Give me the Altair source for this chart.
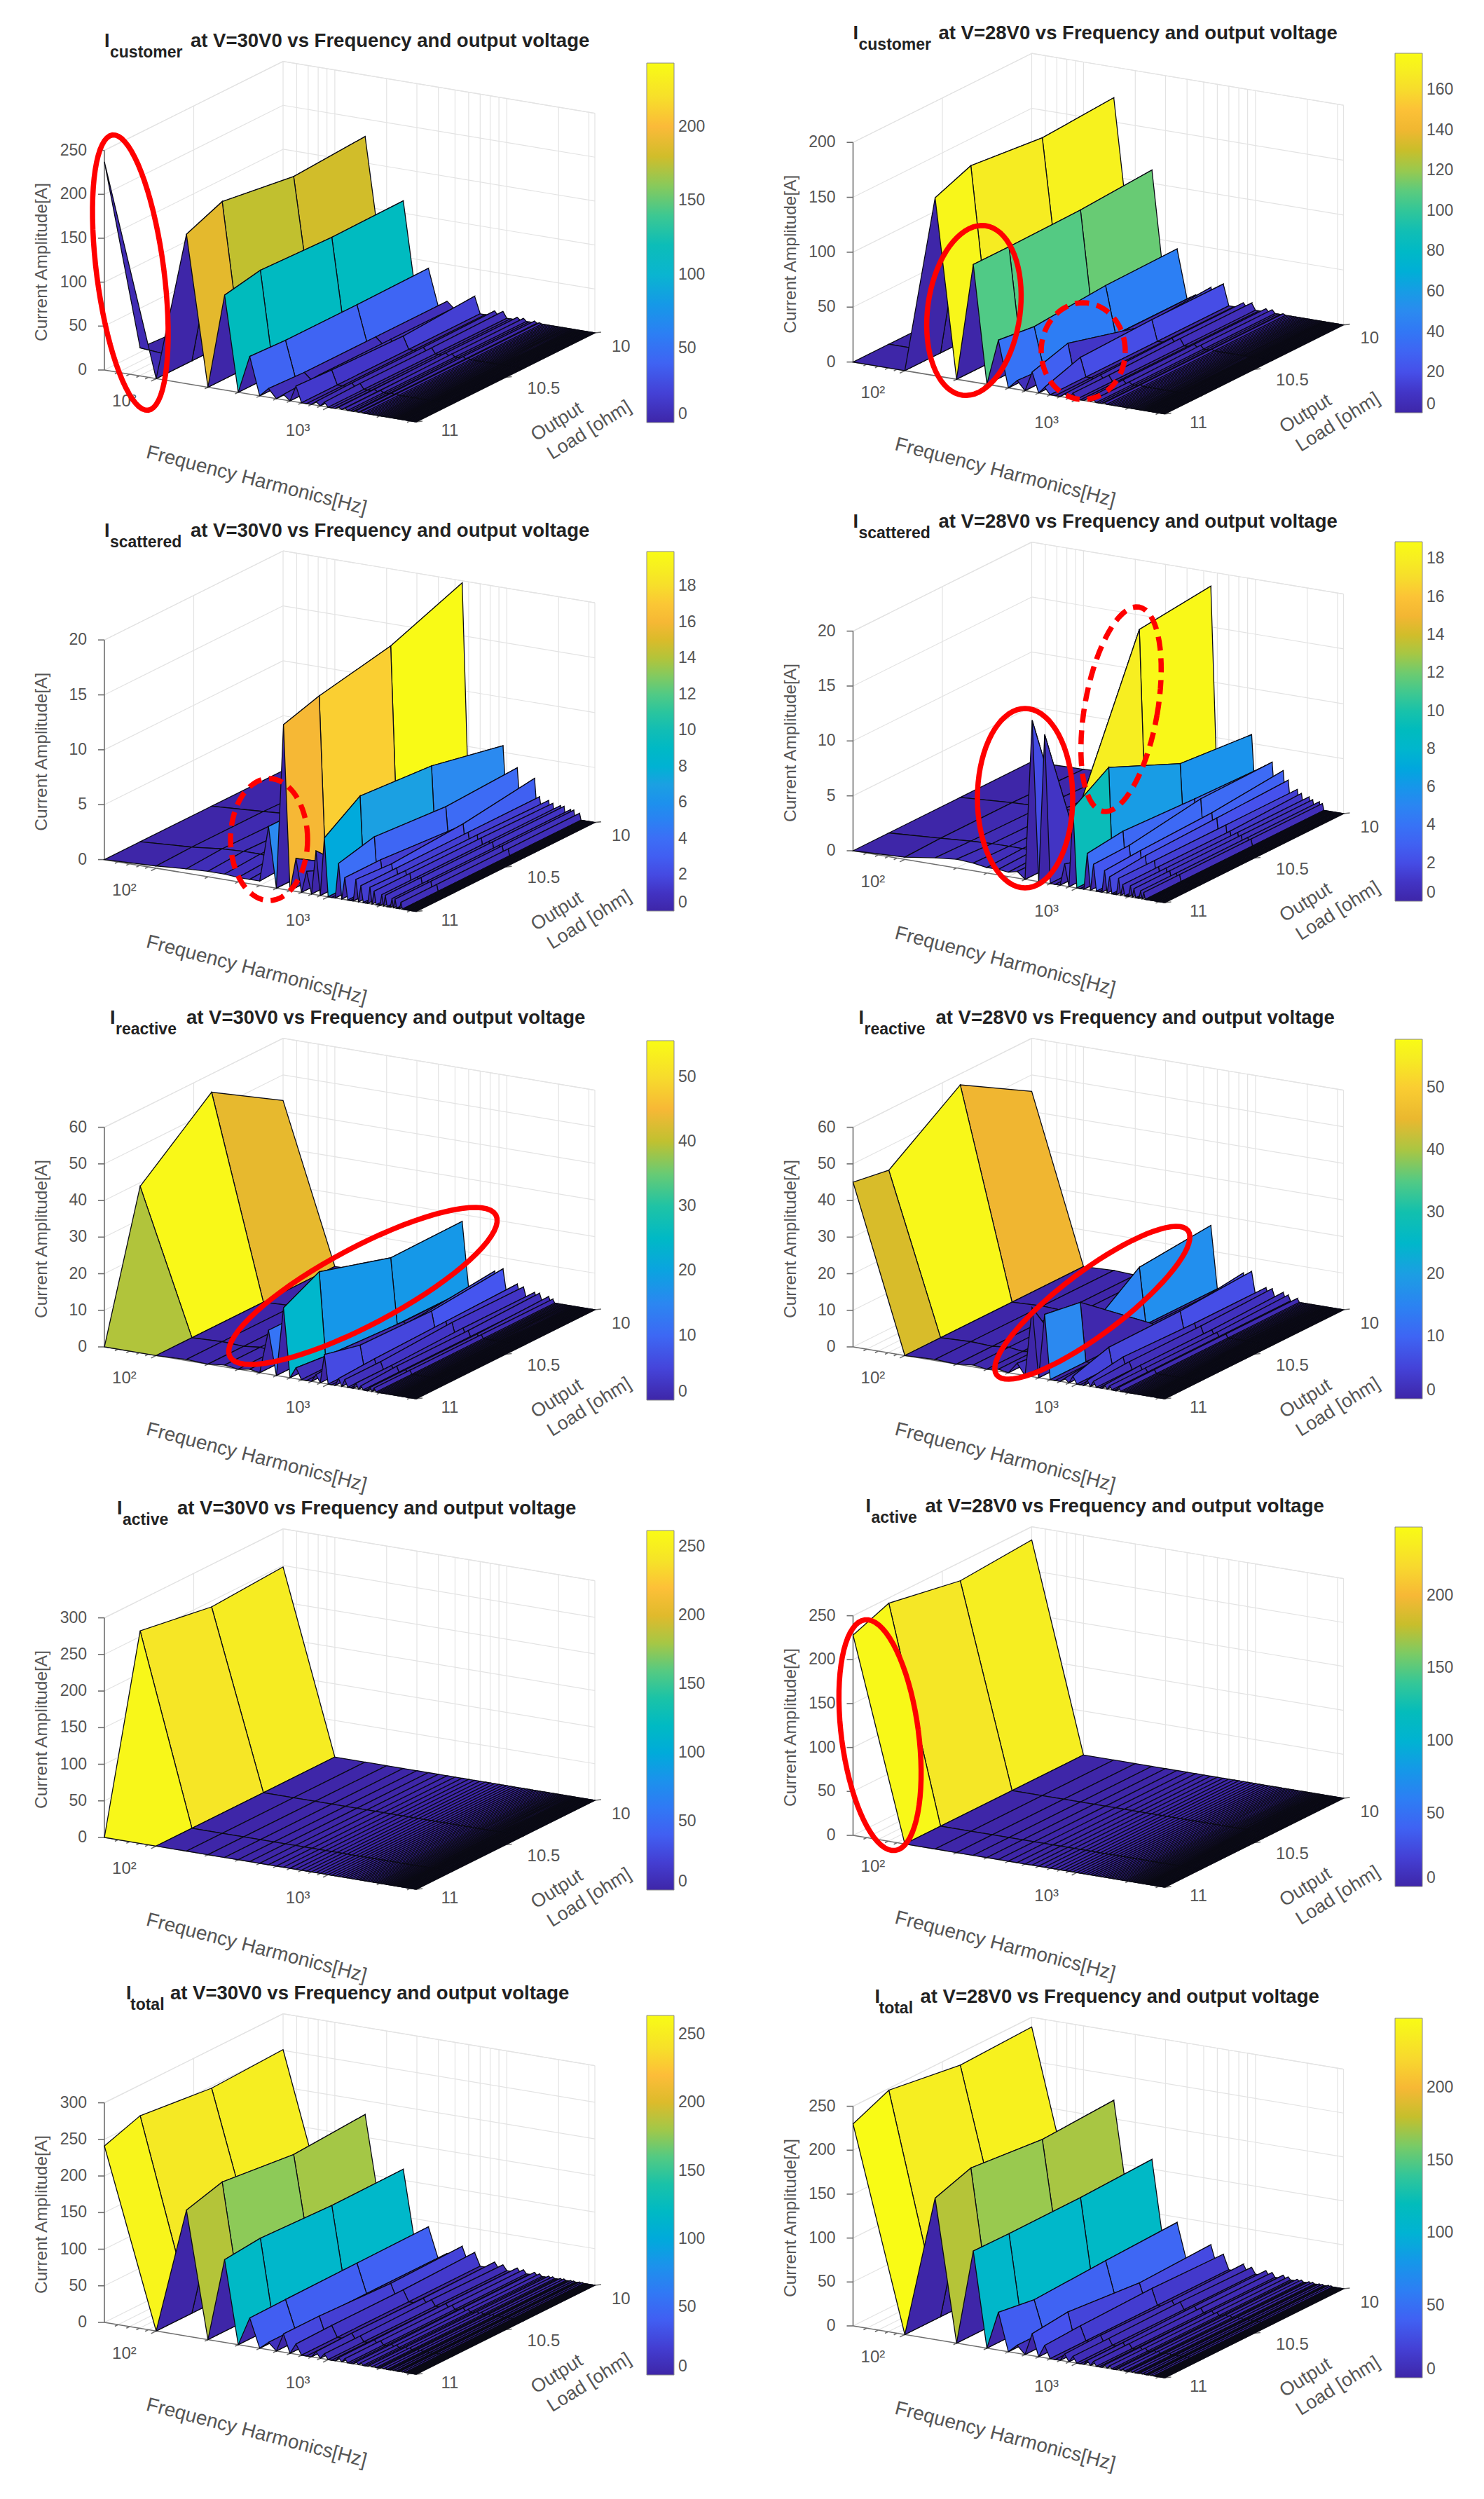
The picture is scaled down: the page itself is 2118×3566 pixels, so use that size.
import math
import altair as alt

PARULA = ["#3E26A8", "#4236C8", "#4653EE", "#3C6EF6", "#2C8AF0", "#1E9FE2", "#0CB5D0", "#12BDB6", "#30C69A",
          "#5ECB7C", "#A0C84A", "#C9BE2A", "#F2B632", "#FDBB3A", "#F8D530", "#F5E825", "#F9FB15"]
PARULA_AT = [0, .06, .12, .2, .28, .35, .41, .5, .56, .62, .68, .73, .79, .83, .88, .93, 1]
HARMONICS = list(range(1, 66))
LOADS = [11, 10.8, 10.4, 10]
FONT = "Liberation Sans"

# amplitude [A] per harmonic number, at the loads 11, 10.8, 10.4, 10 ohm; all others read as about 0
CUSTOMER_30 = {1: [237, 5, 0, 0], 3: [170, 187, 175, 180], 5: [108, 116, 113, 114], 7: [43, 41, 41, 42],
               9: [10, 8, 8, 8], 11: [6, 8, 8, 8], 13: [18, 16, 14, 19], 17: [4, 5, 5, 6], 19: [5, 6, 6, 7],
               23: [2, 2, 3, 3], 25: [2, 2, 3, 3], 29: [1, 1, 2, 2], 31: [1, 1, 1, 1]}
CUSTOMER_28 = {3: [162, 175, 168, 172], 5: [107, 107, 108, 112], 7: [42, 38, 43, 44], 9: [8, 6, 5, 5],
               11: [18, 28, 10, 14], 13: [6, 17, 19, 19], 17: [3, 4, 5, 5], 19: [5, 5, 6, 6],
               23: [2, 3, 3, 3], 25: [2, 2, 3, 3], 29: [1, 1, 1, 1]}
SCATTERED_30 = {2: [.2, .3, .3, .1], 3: [.4, .6, .5, .2], 4: [.5, .7, .5, .2], 5: [.5, .7, .6, .2],
                6: [.4, .6, .6, .3], 7: [.4, .6, .6, .3], 8: [.4, .6, .6, .3], 9: [5.5, 5.5, .6, .3],
                11: [15, 16, 17.3, 19.8], 13: [3, 1, .5, .4], 15: [2, .6, .4, .3], 17: [4, .8, .5, .4],
                19: [5.3, 7.5, 7, 5.6], 23: [3.2, 4, 3.5, 3.8], 25: [2, 2, 1.5, 1], 29: [2, 1.8, 2.2, 3.1],
                31: [1.5, 1.5, 1.5, 1.5], 35: [1.5, 1.4, 1.4, 1.3], 37: [1.2, 1.2, 1.2, 1.1], 41: [1, 1, 1, 1],
                43: [1, 1, 1, 1], 47: [.8, .8, .8, .8], 49: [.8, .8, .8, .8], 53: [.6, .6, .6, .6]}
SCATTERED_28 = {2: [.2, .3, .3, .1], 3: [.6, .5, .4, .2], 4: [.8, .6, .5, .2], 5: [.7, .6, .5, .2],
                6: [.5, .6, .5, .3], 7: [.5, .6, .5, .3], 8: [.4, .5, .5, .3], 9: [.6, .5, .5, .3],
                11: [14.6, 2, 18, 18.7], 13: [13.5, 1, 1, 1], 17: [2, 1, 1, 1], 19: [7.2, 9.3, 6.4, 5.8],
                23: [3.3, 3.7, 3.4, 3.2], 25: [2.4, 2.5, 3.5, 3.6], 29: [2, 2.2, 2.4, 3], 31: [1.5, 1.8, 2, 2.2],
                35: [1.5, 1.5, 1.5, 1.5], 37: [1, 1, 1, 1.2], 41: [1, 1, 1, 1], 43: [.8, .8, .8, .8],
                47: [.7, .7, .7, .7], 49: [.6, .6, .6, .6]}
REACTIVE_30 = {1: [0, 39, 55, 43], 3: [.3, .3, .3, .3], 5: [.5, .5, .5, .5], 7: [.5, .5, .5, .5],
               9: [12, 12, .5, .5], 11: [18.8, 23.8, 17.9, 18.1], 13: [3, 2, 1, 1], 17: [2, 3, 4, 6],
               19: [7.9, 5.6, 5.2, 7], 23: [2, 2.5, 3, 3.5], 25: [2, 2, 3, 3], 29: [1.5, 1.5, 2, 2],
               31: [1, 1.5, 1.5, 2], 35: [1, 1, 1, 1.5], 37: [1, 1, 1, 1]}
REACTIVE_28 = {1: [45, 43.4, 57, 45.5], 3: [.3, .3, .3, .3], 5: [.5, .5, .5, .5], 7: [.5, .5, .5, .5],
               9: [3, 2, .5, .5], 11: [18.8, 1, 15.3, 17], 13: [17.6, 16, .5, .5], 17: [1, 2, 3, 5.5],
               19: [2, 5, 5.2, 6.3], 23: [1.5, 3, 2.5, 2.5], 25: [1.5, 2, 2, 2.5], 29: [1, 1.5, 1.5, 2],
               31: [1, 1, 1, 1.5], 35: [1, 1, 1, 1]}
ACTIVE_30 = {1: [0, 258, 242, 248]}
ACTIVE_28 = {1: [228, 244, 229, 235]}
TOTAL_30 = {1: [241, 258, 247, 251], 3: [172, 186, 175, 181], 5: [113, 118, 114, 115], 7: [39, 40, 41, 42],
            9: [10, 10, 10, 10], 11: [25, 25, 21, 23], 13: [14, 15, 15, 17.5], 17: [8, 9, 8, 9], 19: [7, 7, 8, 7],
            23: [5, 5, 6, 6], 25: [5, 5, 5, 5], 29: [3, 3, 4, 4], 31: [3, 3, 3, 3], 35: [2, 2, 2, 2],
            37: [2, 2, 2, 2], 41: [1.5, 1.5, 1.5, 1.5], 43: [1.5, 1.5, 1.5, 1.5], 47: [1, 1, 1, 1], 49: [1, 1, 1, 1],
            53: [1, 1, 1, 1], 55: [1, 1, 1, 1]}
TOTAL_28 = {1: [230, 248, 236, 239], 3: [161, 175, 167, 171], 5: [108, 107.5, 108, 111], 7: [43, 37, 41, 44],
            9: [9, 9, 10, 10], 11: [25, 29.5, 22, 25], 13: [14, 16, 18, 16.5], 17: [8, 9, 8, 9], 19: [7, 7, 8, 7],
            23: [5, 5, 6, 6], 25: [5, 5, 5, 5], 29: [3, 3, 4, 4], 31: [3, 3, 3, 3], 35: [2, 2, 2, 2],
            37: [2, 2, 2, 2], 41: [1.5, 1.5, 1.5, 1.5], 43: [1.5, 1.5, 1.5, 1.5], 47: [1, 1, 1, 1], 49: [1, 1, 1, 1],
            53: [1, 1, 1, 1], 55: [1, 1, 1, 1]}

FREQ_TICKS = [60, 70, 80, 90, 100, 200, 300, 400, 500, 600, 700, 800, 900, 1000, 2000, 3000]
FREQ_MAJOR = [100, 1000]
LOAD_TICKS = [11, 10.5, 10]

ROW_TOP = [8, 738, 1438, 2135, 2830]
ROW_H = [730, 700, 697, 695, 710]
COL_LEFT = [8, 1060]
COL_W = [1052, 1050]

# sub, volt, values, zmax, zstep, cmax, cstep, origin, colour bar top, colour bar left, I x, sub x, rest x, ellipses
PANELS = [
    [("customer", "30", CUSTOMER_30, 250, 50, 243, 50, (149, 528), 90, 923, 0, 8, 123,
      [(186, 389, 198, 48, -7.4, False)]),
     ("customer", "28", CUSTOMER_28, 200, 50, 178, 20, (1217.5, 516.6), 76, 1991, 0, 8, 122,
      [(1390, 443, 122, 66, 7.7, False), (1546, 501, 69, 60, 0, True)])],
    [("scattered", "30", SCATTERED_30, 20, 5, 19.9, 2, (149, 1226.6), 787, 923, 0, 8, 123,
      [(384, 1198, 87, 55, 0, True)]),
     ("scattered", "28", SCATTERED_28, 20, 5, 18.9, 2, (1217.5, 1214), 773, 1991, 0, 8, 122,
      [(1463, 1139, 128, 68, 0, False), (1600, 1012, 148, 52, 10, True)])],
    [("reactive", "30", REACTIVE_30, 60, 10, 55.6, 10, (149, 1922), 1485, 923, 8, 16, 117,
      [(518, 1835, 215, 55, 62, False)]),
     ("reactive", "28", REACTIVE_28, 60, 10, 57.8, 10, (1217.5, 1922), 1483, 1991, 8, 16, 118,
      [(1559, 1859, 171, 45, 53, False)])],
    [("active", "30", ACTIVE_30, 300, 50, 262, 50, (149, 2622), 2184, 923, 18, 26, 104, []),
     ("active", "28", ACTIVE_28, 250, 50, 247, 50, (1217.5, 2619), 2179, 1991, 18, 26, 103,
      [(1256, 2476, 166, 55, -7.5, False)])],
    [("total", "30", TOTAL_30, 300, 50, 264, 50, (149, 3314), 2876, 923, 31, 37, 94, []),
     ("total", "28", TOTAL_28, 250, 50, 248, 50, (1217.5, 3319), 2880, 1991, 31, 37, 96, [])],
]

AX, AY = 445, 74      # frequency axis on screen
BX, BY = 255, -127    # load axis on screen
CZ = 313.4            # amplitude axis on screen
LOG_SPAN = math.log10(HARMONICS[-1])
CBAR_LEN, CBAR_W = 513, 39


def project(ox, oy, freq, load, frac):
    u = math.log10(freq / 50.0) / LOG_SPAN
    v = (11 - load)
    return ox + AX * u + BX * v, oy + AY * u + BY * v - CZ * frac


def panel(row, col, spec):
    sub, volt, values, zmax, zstep, cmax, cstep, origin, cb_top, cb_left, ix, sx, rx, ellipses = spec
    top, left, w, h = ROW_TOP[row], COL_LEFT[col], COL_W[col], ROW_H[row]
    ox, oy = origin[0] - left, origin[1] - top
    xs = alt.Scale(domain=[0, w], nice=False, zero=False)
    ys = alt.Scale(domain=[h, 0], nice=False, zero=False)
    X = alt.X("x:Q", scale=xs, axis=None)
    Y = alt.Y("y:Q", scale=ys, axis=None)

    def rules(rows, color, width):
        return alt.Chart(alt.Data(values=rows)).mark_rule(color=color, strokeWidth=width).encode(
            x=X, y=Y, x2="x2:Q", y2="y2:Q")

    def texts(rows, size, color="#555555", bold=False, angle=0, align="center"):
        return alt.Chart(alt.Data(values=rows)).mark_text(
            font=FONT, fontSize=size, color=color, fontWeight="bold" if bold else "normal",
            angle=angle, align=align, baseline="middle").encode(x=X, y=Y, text="t:N")

    def seg(a, b):
        return {"x": a[0], "y": a[1], "x2": b[0], "y2": b[1]}

    P = lambda f, l, z=0.0: project(ox, oy, f, l, z)
    fmin, fmax = 50, 50 * HARMONICS[-1]
    zticks = [z for z in range(0, zmax + 1, zstep)]

    grid = []
    for z in zticks:
        fr = z / zmax
        grid.append(seg(P(fmin, 11, fr), P(fmin, 10, fr)))
        grid.append(seg(P(fmin, 10, fr), P(fmax, 10, fr)))
    for f in FREQ_TICKS:
        grid.append(seg(P(f, 10, 0), P(f, 10, 1)))
        grid.append(seg(P(f, 11, 0), P(f, 10, 0)))
    grid.append(seg(P(fmin, 10.5, 0), P(fmin, 10.5, 1)))
    grid.append(seg(P(fmin, 10.5, 0), P(fmax, 10.5, 0)))
    grid.append(seg(P(fmin, 10, 0), P(fmin, 10, 1)))
    grid.append(seg(P(fmax, 11, 0), P(fmax, 10, 0)))
    grid.append(seg(P(fmax, 10, 0), P(fmax, 10, 1)))
    grid.append(seg(P(fmin, 11, 1), P(fmin, 10, 1)))
    grid.append(seg(P(fmin, 10, 1), P(fmax, 10, 1)))

    axis = [seg(P(fmin, 11, 0), P(fmin, 11, 1)),
            seg(P(fmin, 11, 0), P(fmax, 11, 0)),
            seg(P(fmax, 11, 0), P(fmax, 10, 0))]
    for z in zticks:
        a = P(fmin, 11, z / zmax)
        axis.append(seg((a[0] - 9, a[1]), a))
    for f in FREQ_TICKS:
        a = P(f, 11, 0)
        d = 8 if f in FREQ_MAJOR else 5
        axis.append(seg(a, (a[0] - d * 0.9, a[1] + d * 0.45)))
    for l in LOAD_TICKS:
        a = P(fmax, l, 0)
        axis.append(seg(a, (a[0] + 9, a[1] - 1)))

    features = []
    n = len(HARMONICS)
    z_at = lambda i, j: values.get(HARMONICS[i], [0, 0, 0, 0])[j]
    for i in range(n - 1):
        for j in (3, 2, 1):
            corners = [(i, j), (i + 1, j), (i + 1, j - 1), (i, j - 1)]
            ring = [list(P(50 * HARMONICS[a], LOADS[b], z_at(a, b) / zmax)) for a, b in corners]
            ring.append(ring[0])
            features.append({"type": "Feature", "properties": {"c": min(z_at(i, j), cmax)},
                             "geometry": {"type": "Polygon", "coordinates": [ring]}})

    stops = [cmax * q for q in PARULA_AT]
    cvals = [c * cstep for c in range(0, int(cmax / cstep) + 1)]
    legend = alt.Legend(orient="none", legendX=cb_left - left, legendY=cb_top - top, title=None,
                        gradientLength=CBAR_LEN, gradientThickness=CBAR_W, values=cvals,
                        labelFont=FONT, labelFontSize=23, labelColor="#555555", labelOffset=6,
                        gradientStrokeColor="#8a8a8a", gradientStrokeWidth=1, padding=0, direction="vertical")
    surface = alt.Chart(alt.InlineData(
        values={"type": "FeatureCollection", "features": features},
        format=alt.DataFormat(type="json", property="features"))).mark_geoshape(
        stroke="#0a0a14", strokeWidth=1.3).encode(
        color=alt.Color("properties.c:Q", scale=alt.Scale(domain=stops, range=PARULA), legend=legend)
    ).project(type="identity", scale=1, translate=[0, 0])

    cb_ticks = []
    for c in cvals[1:]:
        yy = cb_top - top + CBAR_LEN * (1 - c / cmax)
        xx = cb_left - left + CBAR_W
        cb_ticks.append(seg((xx - 4, yy), (xx, yy)))

    layers = [rules(grid, "#e3e3e3", 1.2), rules(axis, "#6e6e6e", 1.6), surface, rules(cb_ticks, "#333333", 1.5)]

    layers.append(texts([{"x": ox - 25, "y": P(fmin, 11, z / zmax)[1], "t": str(z)} for z in zticks], 23, align="right"))
    layers.append(texts([{"x": ox + 43 / 1.568 * 1.0 + 1, "y": oy + 100 / 2.24, "t": "10²"},
                         {"x": ox + 433 / 1.568, "y": oy + 195 / 2.24, "t": "10³"},
                         {"x": ox + 773 / 1.568, "y": oy + 195 / 2.24, "t": "11"},
                         {"x": ox + 983 / 1.568, "y": oy + 60 / 2.24, "t": "10.5"},
                         {"x": ox + 1156 / 1.568, "y": oy - 75 / 2.24, "t": "10"}], 24))
    layers.append(texts([{"x": ox - 89, "y": oy - 154, "t": "Current Amplitude[A]"}], 24.5, angle=270))
    layers.append(texts([{"x": ox + 217, "y": oy + 158, "t": "Frequency Harmonics[Hz]"}], 28, angle=14.5))
    layers.append(texts([{"x": ox + 646, "y": oy + 74, "t": "Output"},
                         {"x": ox + 692, "y": oy + 86, "t": "Load [ohm]"}], 27, angle=328))
    ty = oy - 469
    layers.append(texts([{"x": ox + ix, "y": ty, "t": "I"}], 27, "#222222", True, align="left"))
    layers.append(texts([{"x": ox + sx, "y": ty + 16, "t": sub}], 23, "#222222", True, align="left"))
    layers.append(texts([{"x": ox + rx, "y": ty, "t": f"at V={volt}V0 vs Frequency and output voltage"}],
                        27.5, "#222222", True, align="left"))

    for dashed in (False, True):
        pts = []
        for eid, (cx, cy, a, b, th, d) in enumerate(ellipses):
            if d != dashed:
                continue
            t0 = math.radians(th)
            for q in range(73):
                t = 2 * math.pi * q / 72
                ex, ey = b * math.cos(t), -a * math.sin(t)
                pts.append({"x": cx - left + ex * math.cos(t0) + (-ey) * math.sin(t0),
                            "y": cy - top + ex * math.sin(t0) + ey * math.cos(t0),
                            "e": eid, "q": q})
        if pts:
            mk = dict(color="#FF0000", strokeWidth=7.5, clip=False)
            if dashed:
                mk["strokeDash"] = [20, 11]
            layers.append(alt.Chart(alt.Data(values=pts)).mark_line(**mk).encode(
                x=X, y=Y, detail="e:N", order="q:Q"))

    return alt.layer(*layers).properties(width=w, height=h)


cells = [panel(r, c, PANELS[r][c]) for r in range(5) for c in range(2)]
chart = (alt.concat(*cells, columns=2, spacing=0, bounds="flush")
         .resolve_scale(color="independent").resolve_legend(color="independent")
         .properties(padding=0, background="white").configure_view(stroke=None))
chart.save("out.html", embed_options={"renderer": "svg", "actions": False})
